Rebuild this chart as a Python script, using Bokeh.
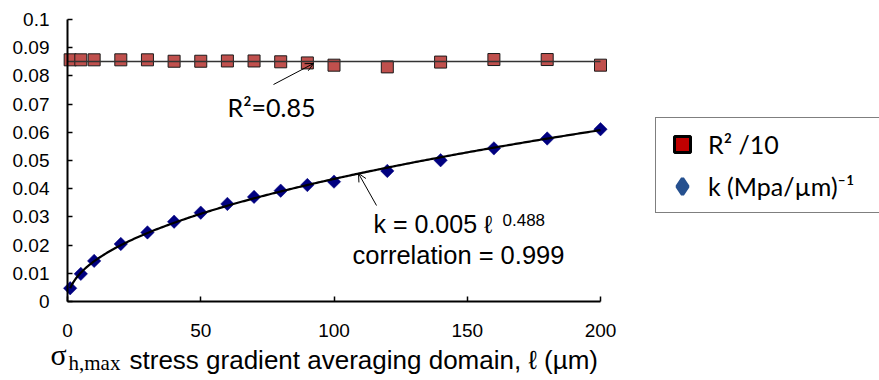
import numpy as np
from bokeh.plotting import figure
from bokeh.models import (Range1d, FixedTicker, Label, Arrow, OpenHead, Legend, LegendItem)
from bokeh.embed import file_html
from bokeh.resources import INLINE

# ---- data ----
ell = [1, 5, 10, 20, 30, 40, 50, 60, 70, 80, 90, 100, 120, 140, 160, 180, 200]
r2_over_10 = [0.0857, 0.0857, 0.0857, 0.0857, 0.0857, 0.0852, 0.0852, 0.0853, 0.0853,
              0.0850, 0.0846, 0.0838, 0.0832, 0.0849, 0.0858, 0.0858, 0.0838]
k_vals = [0.0047, 0.0098, 0.0144, 0.0204, 0.0245, 0.0283, 0.0315, 0.0346, 0.0371,
          0.0393, 0.0413, 0.0425, 0.0463, 0.0501, 0.0543, 0.0578, 0.0611]
x_ticks = [0, 50, 100, 150, 200]
y_ticks = [0, 0.01, 0.02, 0.03, 0.04, 0.05, 0.06, 0.07, 0.08, 0.09, 0.1]
y_tick_labels = ["0", "0.01", "0.02", "0.03", "0.04", "0.05", "0.06", "0.07", "0.08", "0.09", "0.1"]
legend_labels = ["R\u00b2 /10", "k (Mpa/\u00b5m)\u207b\u00b9"]
x_title_parts = ["\u03c3", "h,max", "stress gradient averaging domain, \u2113 (\u00b5m)"]

# trend lines derived from the data
b, a = np.polyfit(np.log(ell), np.log(k_vals), 1)
fit_x = np.linspace(1, 200, 300)
fit_y = np.exp(a) * fit_x ** b
r2_mean = float(np.mean(r2_over_10))

W, H = 879, 380
X0PX, X1PX, Y0PX, Y1PX = 67, 600, 301, 19      # where the axes' ends sit on the page
XMAX, YMAX = 200, 0.1
sx = (X1PX - X0PX) / XMAX
sy = (Y0PX - Y1PX) / YMAX

p = figure(width=W, height=H, output_backend="svg", toolbar_location=None,
           x_range=Range1d(-X0PX / sx, (W - X0PX) / sx),
           y_range=Range1d(-(H - Y0PX) / sy, YMAX + Y1PX / sy),
           min_border=0)
p.title.visible = False
p.outline_line_color = None
p.xgrid.visible = False
p.ygrid.visible = False

for ax in (p.xaxis[0], p.yaxis[0]):
    ax.fixed_location = 0
    ax.axis_line_width = 2
    ax.axis_line_color = "black"
    ax.major_tick_line_color = "black"
    ax.major_tick_line_width = 1.5
    ax.major_tick_in = 5
    ax.major_tick_out = 0
    ax.minor_tick_line_color = None
    ax.major_label_text_font = "Liberation Sans"
    ax.major_label_text_font_size = "19px"
    ax.major_label_text_color = "black"

p.xaxis[0].bounds = (0, XMAX)
p.yaxis[0].bounds = (0, YMAX)
p.xaxis[0].ticker = FixedTicker(ticks=x_ticks)
p.xaxis[0].major_label_standoff = 22
p.yaxis[0].ticker = FixedTicker(ticks=y_ticks)
p.yaxis[0].major_label_overrides = {t: s for t, s in zip(y_ticks, y_tick_labels)}
p.yaxis[0].major_label_standoff = 18

# markers
p.scatter(ell, r2_over_10, marker="square", size=12, fill_color="#C0504D",
          line_color="#1a1a1a", line_width=1)
p.scatter(ell, k_vals, marker="square", angle=np.pi / 4, size=9.5,
          fill_color="#000080", line_color="#000080", line_width=0.5)

# trend lines on top
p.line([0, XMAX], [r2_mean, r2_mean], line_color="#333333", line_width=1.5)
p.line(fit_x, fit_y, line_color="black", line_width=2.2)

# legend-only renderers (placed outside the visible range)
lr1 = p.scatter([-500], [-1], marker="square", fill_color="#C00000",
                line_color="black", line_width=3)
lr2 = p.scatter([-500], [-1], marker="diamond",
                fill_color="#25508F", line_color="#25508F", line_width=3.5)
legend = Legend(items=[LegendItem(label=legend_labels[0], renderers=[lr1]),
                       LegendItem(label=legend_labels[1], renderers=[lr2])],
                location=(655, H - 213), orientation="vertical",
                glyph_width=40, glyph_height=40, spacing=2, padding=6,
                label_standoff=6, label_width=175,
                label_text_font="Lato", label_text_font_size="25px",
                label_text_color="black", border_line_color="black", border_line_width=1,
                background_fill_color="white", background_fill_alpha=1, margin=0)
p.add_layout(legend)

# page-pixel helpers for annotation placement
def px_x(px):
    return (px - X0PX) / sx

def px_y(py):
    return (Y0PX - py) / sy

def add_label(x, baseline_px, text, font, size_px):
    # empirical correction so that the text's baseline lands on baseline_px
    y = baseline_px - 0.43 * size_px
    p.add_layout(Label(x=px_x(x), y=px_y(y), text=text, text_font=font,
                       text_font_size=f"{size_px}px", text_color="black",
                       text_baseline="alphabetic"))

add_label(227, 117, "R\u00b2=0.85", "Lato", 25)
add_label(373, 234, "k = 0.005 \u2113", "Liberation Sans", 25)
add_label(502, 227, "0.488", "Liberation Sans", 17)
add_label(352, 265, "correlation = 0.999", "Liberation Sans", 25.5)

p.add_layout(Arrow(x_start=px_x(273), y_start=px_y(84), x_end=px_x(313), y_end=px_y(63),
                   line_color="black", line_width=1,
                   end=OpenHead(size=8, line_color="black", line_width=1)))
p.add_layout(Arrow(x_start=px_x(376), y_start=px_y(205), x_end=px_x(358), y_end=px_y(173),
                   line_color="black", line_width=1,
                   end=OpenHead(size=8, line_color="black", line_width=1)))

# composite x-axis title
add_label(50, 367, x_title_parts[0], "Liberation Serif", 30)
add_label(68, 372, x_title_parts[1], "Liberation Serif", 21)
add_label(129, 371, x_title_parts[2], "Liberation Sans", 26)

open("out.html", "w").write(file_html(p, INLINE))
